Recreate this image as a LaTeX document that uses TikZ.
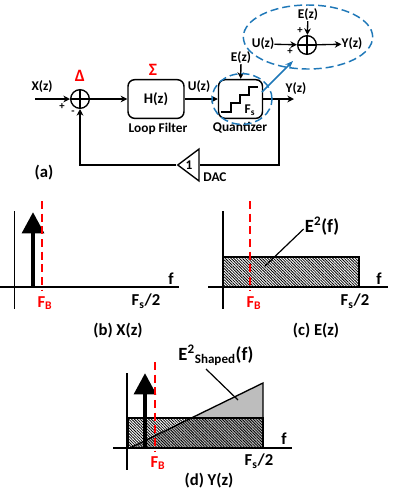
\documentclass[tikz,border=0pt]{standalone}
\usepackage{fontspec}
\setmainfont{Carlito}
\usetikzlibrary{arrows.meta, patterns.meta, shapes.geometric}
\definecolor{accentBlue}{HTML}{1F78B8}
\definecolor{shapedGray}{HTML}{BDBDBD}
\begin{document}
\begin{tikzpicture}[x=0.75pt, y=-0.75pt,
      lbl/.style={font=\bfseries\fontsize{10}{12}\selectfont, inner sep=0pt},
      axlbl/.style={font=\bfseries\fontsize{12.5}{14}\selectfont, inner sep=0pt},
      bigl/.style={font=\bfseries\fontsize{14}{16}\selectfont, inner sep=0pt},
      sgn/.style={font=\bfseries\fontsize{8}{10}\selectfont, inner sep=0pt},
      redlbl/.style={axlbl, text=red},
      sumnode/.style={draw, circle, line width=1pt, minimum size=14pt, inner sep=0pt,
                  path picture={\draw[line width=1pt] (path picture bounding box.north) -- (path picture bounding box.south)
                      (path picture bounding box.west) -- (path picture bounding box.east);}},
      block/.style={draw, line width=1.1pt, rounded corners=5pt, inner sep=0pt},
      arr/.style={-{Stealth[length=5pt, width=5pt]}, line width=1pt},
      axis/.style={line width=1.1pt},
      band/.style={red, dashed, line width=1.1pt, dash pattern=on 6pt off 3.5pt},
      tone/.style={-{Triangle[length=16pt, width=16pt]}, line width=3.6pt},
      note/.style={line width=0.9pt},
      blobb/.style={draw=accentBlue, dashed, line width=1.1pt, dash pattern=on 6pt off 3pt, ellipse, inner sep=0pt},
      hatch/.style={pattern={Lines[angle=-45, distance=1.5pt, line width=0.6pt]}}]
    \useasboundingbox (0,0) rectangle (400,494);

    % modulator loop
    \node[sumnode] (sum1) at (80,99) {};
    \node[block, minimum width=42pt, minimum height=29pt] (hz) at (156,99) {};
    \node[lbl, font=\bfseries\fontsize{11}{12}\selectfont] at (hz.center) {H(z)};
    \node[block, minimum width=33pt, minimum height=29pt] (quant) at (240.5,99) {};
    \draw[line width=0.9pt] (221,112) -- (231,112) -- (231,103) -- (240,103) -- (240,95) -- (249,95) -- (249,87) -- (258,87);
    \node[lbl] (fs) at (250,110) {F\textsubscript{s}};
    \node[draw, isosceles triangle, isosceles triangle stretches=true, shape border rotate=180,
          line width=1pt, minimum width=24pt, minimum height=16pt, inner sep=0pt, anchor=apex] (dac) at (176,165) {};
    \node[lbl] at (189,165) {1};

    \node[lbl] (xin) at (42,87) {X(z)};
    \coordinate (xstart) at (35,99);
    \node[lbl, text=red, font=\bfseries\fontsize{13}{14}\selectfont] (delta) at (80,76) {Δ};
    \node[lbl, text=red, font=\bfseries\fontsize{13}{14}\selectfont] (sigma) at (153,70) {Σ};
    \node[sgn] at (62,107) {+};
    \node[sgn] at (73,113) {-};
    \node[lbl] (uz) at (199,87) {U(z)};
    \node[lbl] (yz) at (296,89) {Y(z)};
    \node[lbl] (ez) at (241,58) {E(z)};
    \node[lbl] (lf) at (158,129) {Loop Filter};
    \node[lbl] (qz) at (240,128) {Quantizer};
    \node[lbl] (dacl) at (215,177) {DAC};
    \node[axlbl] (pa) at (44,173) {(a)};
    \coordinate (yend) at (294,99);
    \coordinate (fb) at (279,99);

    \draw[arr] (xstart) -- (sum1);
    \draw[arr] (sum1) -- (hz);
    \draw[arr] (hz) -- (quant);
    \draw[arr] (quant) -- (yend);
    \draw[arr] (ez) -- (quant);
    \draw[line width=1pt] (fb) |- (dac.east);
    \draw[arr] (dac.apex) -| (sum1);

    % zoomed quantizer model
    \node[blobb, minimum width=45pt, minimum height=38pt] (qring) at (242,99) {};
    \node[blobb, minimum width=97pt, minimum height=48pt] (model) at (308,37) {};
    \coordinate (qtap) at (262,92);
    \coordinate (mtap) at (293,61);
    \draw[-{Stealth[length=6pt]}, accentBlue, line width=1.1pt] (qtap) -- (mtap);
    \node[sumnode, minimum size=14pt] (sum2) at (307,45) {};
    \node[lbl] (uz2) at (263,44) {U(z)};
    \node[lbl] (yz2) at (352,44) {Y(z)};
    \node[lbl] (ez2) at (308,15) {E(z)};
    \node[sgn] at (300,31) {+};
    \node[sgn] at (290,52) {+};
    \draw[arr] (uz2) -- (sum2);
    \draw[arr] (sum2) -- (yz2);
    \draw[arr] (ez2) -- (sum2);

    % X(z) spectrum
    \draw[axis] (14.5,211) -- (14.5,309);
    \draw[axis] (0,287) -- (179,287);
    \draw[tone] (33,287) -- (33,212);
    \draw[band] (42,201) -- (42,291);
    \node[redlbl] at (45,303) {F\textsubscript{B}};
    \node[axlbl] at (146,301) {F\textsubscript{s}/2};
    \node[axlbl] at (171,279) {f};
    \node[axlbl] at (118,331) {(b) X(z)};

    % E(z) spectrum
    \path[hatch, draw=black, line width=1pt] (223,257) rectangle (359,287);
    \draw[axis] (223,211) -- (223,309);
    \draw[axis] (208,287) -- (388,287);
    \draw[band] (250,201) -- (250,291);
    \node[bigl] (efl) at (322,226) {E\textsuperscript{2}(f)};
    \coordinate (efp) at (265,266);
    \draw[note] (efl.west) ++(-1,3) -- (efp);
    \node[redlbl] at (254,303) {F\textsubscript{B}};
    \node[axlbl] at (355,301) {F\textsubscript{s}/2};
    \node[axlbl] at (379,279) {f};
    \node[axlbl] at (316,331) {(c) E(z)};

    % Y(z) spectrum
    \fill[shapedGray] (130,448) -- (263,383) -- (263,448) -- cycle;
    \path[hatch] (128,418) rectangle (263,448);
    \draw[line width=1pt] (128,418) rectangle (263,448);
    \draw[line width=1pt] (130,448) -- (263,383) -- (263,448);
    \draw[axis] (127,373) -- (127,470);
    \draw[axis] (113,448) -- (292,448);
    \draw[tone] (145,448) -- (145,373);
    \draw[band] (155,362) -- (155,451);
    \node[bigl] (esl) at (216,355) {E\textsuperscript{2}\textsubscript{Shaped}(f)};
    \coordinate (esp) at (238,400);
    \draw[note] (206,369) -- (esp);
    \node[redlbl] at (158,463) {F\textsubscript{B}};
    \node[axlbl] at (259,461) {F\textsubscript{s}/2};
    \node[axlbl] at (284,439) {f};
    \node[axlbl] at (209,481) {(d) Y(z)};
  \end{tikzpicture}
\end{document}
